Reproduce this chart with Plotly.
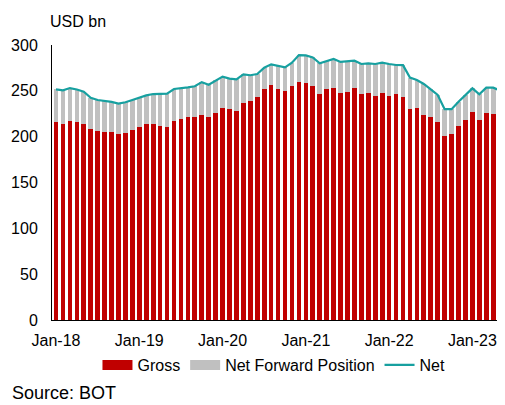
import plotly.graph_objects as go

# monthly, Jan-18 .. Jun-23
months = ["Jan-18", "Feb-18", "Mar-18", "Apr-18", "May-18", "Jun-18", "Jul-18", "Aug-18", "Sep-18", "Oct-18", "Nov-18", "Dec-18",
          "Jan-19", "Feb-19", "Mar-19", "Apr-19", "May-19", "Jun-19", "Jul-19", "Aug-19", "Sep-19", "Oct-19", "Nov-19", "Dec-19",
          "Jan-20", "Feb-20", "Mar-20", "Apr-20", "May-20", "Jun-20", "Jul-20", "Aug-20", "Sep-20", "Oct-20", "Nov-20", "Dec-20",
          "Jan-21", "Feb-21", "Mar-21", "Apr-21", "May-21", "Jun-21", "Jul-21", "Aug-21", "Sep-21", "Oct-21", "Nov-21", "Dec-21",
          "Jan-22", "Feb-22", "Mar-22", "Apr-22", "May-22", "Jun-22", "Jul-22", "Aug-22", "Sep-22", "Oct-22", "Nov-22", "Dec-22",
          "Jan-23", "Feb-23", "Mar-23", "Apr-23", "May-23", "Jun-23"]

gross = [216, 214, 217, 216, 214, 208, 206.5, 205.5, 205.5, 203, 204, 207,
         211, 214, 213.5, 212, 211, 217, 219.5, 221.5, 221.5, 224, 222, 225.8,
         231.6, 230.6, 227.6, 237.1, 238.5, 242.9, 251.6, 256, 252.4, 249.8, 254.9, 259.6,
         258.2, 255.3, 246.9, 251.6, 253.1, 248, 249.1, 253.5, 246.2, 247.6, 244.7, 247.6,
         244.4, 246.9, 243.6, 229.8, 231.6, 223.6, 221.1, 216.3, 200.7, 202.9, 211.6, 217.8,
         226.9, 218.5, 225.8, 224.7, 221.8, 220]

net = [251.5, 250.5, 253, 251.5, 249, 242.5, 240, 239, 238, 236, 237.5, 240,
       242.5, 245, 246.5, 247, 247, 252, 252.5, 253.8, 255, 259.5, 256.7, 261.5,
       265.5, 263.3, 262.5, 268, 267, 268.3, 275.3, 278.9, 277, 275.6, 280.7, 289,
       288.7, 286.5, 280, 282.5, 284.7, 281.5, 281.8, 282.9, 279.3, 280, 279.3, 280.7,
       279.3, 278.2, 278, 264.5, 261.8, 257.5, 251.5, 245.5, 230, 230, 238, 245.5,
       252.7, 246.2, 253.5, 253.5, 250.2, 250]

# grey part of the stack = gap between gross and net
fwd = [n - g for n, g in zip(net, gross)]

tick_pos = [0, 12, 24, 36, 48, 60]
tick_text = ["Jan-18", "Jan-19", "Jan-20", "Jan-21", "Jan-22", "Jan-23"]

x = list(range(len(months)))
font = "Liberation Sans, Arial, sans-serif"
RED, GREY, TEAL = "#C00000", "#C0C0C0", "#17A0A0"

# page body adds an 8px offset, so the figure is 8px smaller than the window
W, H = 497, 397
L, T, B = 44, 37, 85

fig = go.Figure()
fig.add_trace(go.Bar(x=x, y=gross, name="Gross", marker_color=RED,
                     marker_line_width=0, customdata=months, showlegend=False,
                     hovertemplate="%{customdata}: %{y}<extra></extra>"))
fig.add_trace(go.Bar(x=x, y=fwd, name="Net Forward Position", marker_color=GREY,
                     marker_line_width=0, showlegend=False))
fig.add_trace(go.Scatter(x=x, y=net, name="Net", mode="lines", showlegend=False,
                         line=dict(color=TEAL, width=2.2)))

# legend entries: wide rectangular swatches like the original
fig.add_trace(go.Scatter(x=[None], y=[None], name="Gross", mode="lines",
                         line=dict(color=RED, width=10)))
fig.add_trace(go.Scatter(x=[None], y=[None], name="Net Forward Position", mode="lines",
                         line=dict(color=GREY, width=10)))
fig.add_trace(go.Scatter(x=[None], y=[None], name="Net", mode="lines",
                         line=dict(color=TEAL, width=2.2)))

fig.update_layout(
    width=W, height=H,
    margin=dict(l=L, r=0, t=T, b=B, autoexpand=False),
    barmode="stack", bargap=0.33,
    plot_bgcolor="white", paper_bgcolor="white",
    font=dict(family=font, size=16, color="#000000"),
    showlegend=True,
    legend=dict(orientation="h", x=0.49, xanchor="center", xref="paper",
                y=(H - 357) / H, yanchor="middle", yref="container",
                font=dict(size=16), traceorder="normal", itemwidth=30),
    xaxis=dict(range=[-0.58, 64.7], tickvals=tick_pos, ticktext=tick_text,
               showline=True, linecolor="#000000", linewidth=1, ticks="",
               showgrid=False, zeroline=False, ticklabelstandoff=6, automargin=False),
    yaxis=dict(range=[0, 300], dtick=50, showline=True, linecolor="#000000",
               linewidth=1, ticks="", showgrid=False, zeroline=False,
               ticklabelstandoff=10, automargin=False),
    annotations=[
        dict(text="USD bn", x=40, y=14, showarrow=False,
             font=dict(size=16), xanchor="left", yanchor="middle"),
        dict(text="Source: BOT", x=2, y=385, showarrow=False,
             font=dict(size=18), xanchor="left", yanchor="middle"),
    ],
)

# annotations placed in pixel terms, converted to paper coords
pw, ph = W - L, H - T - B
for a in fig.layout.annotations:
    px_x, px_y = a.x, a.y
    a.xref, a.yref = "paper", "paper"
    a.x = (px_x - L) / pw
    a.y = (H - B - px_y) / ph

fig.write_html("out.html")
